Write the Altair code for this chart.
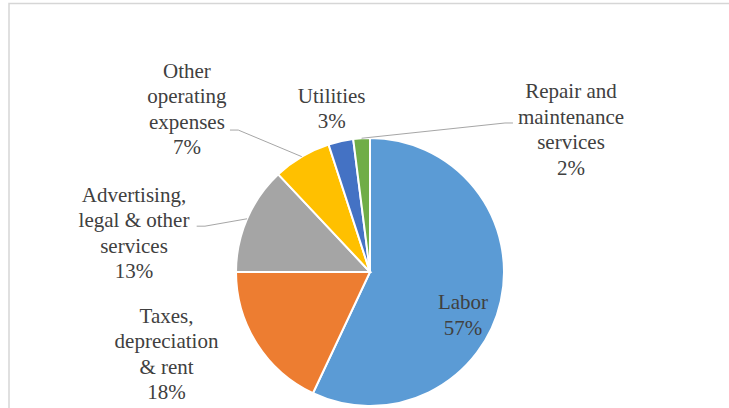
import altair as alt
import numpy as np
import pandas as pd

# ---- data ----
categories = ["Labor", "Taxes, depreciation & rent", "Advertising, legal & other services",
              "Other operating expenses", "Utilities", "Repair and maintenance services"]
values = [57, 18, 13, 7, 3, 2]
label_text = ["Labor", "Taxes,\ndepreciation\n& rent", "Advertising,\nlegal & other\nservices",
              "Other\noperating\nexpenses", "Utilities", "Repair and\nmaintenance\nservices"]
colors = ["#5B9BD5", "#ED7D31", "#A5A5A5", "#FFC000", "#4472C4", "#70AD47"]

# ---- layout (pixels / degrees) ----
CX, CY, R = 370, 272, 134
LINE_H = 25.5
FONT = "Times New Roman"
label_angle = [115.2, 247.8, 279.2, 311.5, 346.7, 54.85]   # clockwise from 12 o'clock
label_dist = [102.8, 219.8, 239.1, 244.4, 166.8, 245.8]
# leader: category -> (start dx, start dy relative to label centre, horizontal elbow length)
leaders = {
    "Advertising, legal & other services": (62.7, -7.6, 8.3),
    "Other operating expenses": (43, 20, 8.3),
    "Repair and maintenance services": (-58, -7.5, -8),
}

df = pd.DataFrame({"category": categories, "value": values, "idx": range(len(values))})
total = float(sum(values))
df["pct"] = [f"{round(v / total * 100)}%" for v in values]
df["label"] = [t + "\n" + p for t, p in zip(label_text, df["pct"])]
nlines = np.array([s.count("\n") + 1 for s in df["label"]])
ang = np.radians(label_angle)
df["lx"] = CX + np.array(label_dist) * np.sin(ang)
df["cy"] = CY - np.array(label_dist) * np.cos(ang)
df["ly"] = df["cy"] - (nlines - 1) / 2.0 * LINE_H
cum = np.cumsum(values) - np.array(values) / 2.0
df["mid"] = cum / total * 2 * np.pi

rows = []
for _, r in df.iterrows():
    if r["category"] in leaders:
        ddx, ddy, el = leaders[r["category"]]
        sx, sy = r["lx"] + ddx, r["cy"] + ddy
        ex, ey = CX + R * np.sin(r["mid"]), CY - R * np.cos(r["mid"])
        rows += [
            {"category": r["category"], "pt": 0, "x": sx, "y": sy},
            {"category": r["category"], "pt": 1, "x": sx + el, "y": sy},
            {"category": r["category"], "pt": 2, "x": ex, "y": ey},
        ]
lead_df = pd.DataFrame(rows)

frame = alt.Chart(pd.DataFrame({"a": [0]})).mark_rect(
    fill="transparent", stroke="#d6d6d6", strokeWidth=1.5
).encode(x=alt.value(9), y=alt.value(3.5), x2=alt.value(760), y2=alt.value(440))

pie = alt.Chart(df).mark_arc(outerRadius=R, stroke="white", strokeWidth=2).encode(
    theta=alt.Theta("value:Q", stack=True),
    color=alt.Color("category:N", scale=alt.Scale(domain=categories, range=colors), legend=None),
    order=alt.Order("idx:Q"),
    x=alt.value(CX),
    y=alt.value(CY),
)

lines = alt.Chart(lead_df).mark_line(color="#A6A6A6", strokeWidth=1).encode(
    x=alt.X("x:Q", scale=None, axis=None),
    y=alt.Y("y:Q", scale=None, axis=None),
    detail="category:N",
    order="pt:Q",
)

text = alt.Chart(df).mark_text(
    font=FONT, fontSize=21, lineHeight=LINE_H, lineBreak="\n",
    baseline="middle", align="center", color="#404040"
).encode(
    x=alt.X("lx:Q", scale=None, axis=None),
    y=alt.Y("ly:Q", scale=None, axis=None),
    text="label:N",
)

chart = alt.layer(frame, pie, lines, text).properties(
    width=729, height=408, autosize="none", padding=0
).configure_view(stroke=None)

chart.save("out.html", embed_options={"renderer": "svg", "actions": False})
